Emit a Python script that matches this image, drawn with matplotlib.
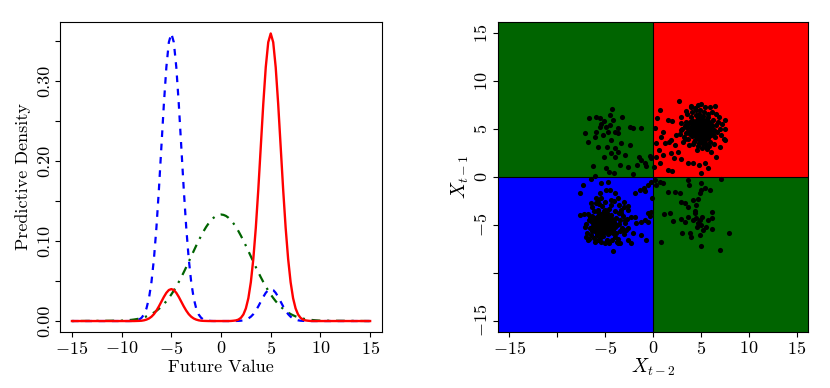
import matplotlib
matplotlib.use('Agg')
import matplotlib.pyplot as plt

plt.rcParams['font.family'] = 'serif'
plt.rcParams['font.serif'] = ['cmr10']
plt.rcParams['mathtext.fontset'] = 'cm'
plt.rcParams['axes.unicode_minus'] = False

# left panel: predictive densities on a grid of future values
x_vals = [-15, -10, -9.75, -9.5, -9.25, -9, -8.75, -8.5, -8.25, -8, -7.75, -7.5, -7.25, -7,
	-6.75, -6.5, -6.25, -6, -5.75, -5.5, -5.25, -5, -4.75, -4.5, -4.25, -4, -3.75, -3.5,
	-3.25, -3, -2.75, -2.5, -2.25, -2, -1.75, -1.5, -1.25, -1, -0.75, -0.5, -0.25, 0,
	0.25, 0.5, 0.75, 1, 1.25, 1.5, 1.75, 2, 2.25, 2.5, 2.75, 3, 3.25, 3.5, 3.75, 4, 4.25,
	4.5, 4.75, 5, 5.25, 5.5, 5.75, 6, 6.25, 6.5, 6.75, 7, 7.25, 7.5, 7.75, 8, 8.25, 8.5,
	8.75, 9, 9.25, 9.5, 9.75, 10, 15]

dens_red = [0, 0, 0, 0, 0, 0, 0, 0.0001, 0.0002, 0.0004, 0.0009, 0.0018, 0.0032, 0.0054,
	0.0086, 0.0130, 0.0183, 0.0242, 0.0301, 0.0352, 0.0387, 0.0399, 0.0387, 0.0352, 0.0301,
	0.0242, 0.0183, 0.0130, 0.0086, 0.0054, 0.0032, 0.0018, 0.0009, 0.0004, 0.0002, 0.0001,
	0, 0, 0, 0, 0, 0, 0, 0, 0, 0.0001, 0.0004, 0.0008, 0.0018, 0.0040, 0.0082, 0.0158,
	0.0285, 0.0486, 0.0777, 0.1166, 0.1643, 0.2178, 0.2710, 0.3169, 0.3480, 0.3590, 0.3480,
	0.3169, 0.2710, 0.2178, 0.1643, 0.1166, 0.0777, 0.0486, 0.0285, 0.0158, 0.0082, 0.0040,
	0.0018, 0.0008, 0.0004, 0.0001, 0, 0, 0, 0, 0]

dens_blue = [0, 0, 0, 0, 0, 0.0001, 0.0004, 0.0008, 0.0018, 0.0040, 0.0082, 0.0158, 0.0285,
	0.0486, 0.0777, 0.1166, 0.1643, 0.2178, 0.2710, 0.3169, 0.3480, 0.3590, 0.3480, 0.3169,
	0.2710, 0.2178, 0.1643, 0.1166, 0.0777, 0.0486, 0.0285, 0.0158, 0.0082, 0.0040, 0.0018,
	0.0008, 0.0004, 0.0001, 0, 0, 0, 0, 0, 0, 0, 0, 0, 0.0001, 0.0002, 0.0004, 0.0009,
	0.0018, 0.0032, 0.0054, 0.0086, 0.0130, 0.0183, 0.0242, 0.0301, 0.0352, 0.0387, 0.0399,
	0.0387, 0.0352, 0.0301, 0.0242, 0.0183, 0.0130, 0.0086, 0.0054, 0.0032, 0.0018, 0.0009,
	0.0004, 0.0002, 0.0001, 0, 0, 0, 0, 0, 0, 0]

dens_green = [0, 0.0005, 0.0007, 0.0009, 0.0012, 0.0015, 0.0019, 0.0024, 0.0030, 0.0038,
	0.0047, 0.0058, 0.0072, 0.0087, 0.0106, 0.0127, 0.0152, 0.0180, 0.0212, 0.0248, 0.0288,
	0.0332, 0.0380, 0.0432, 0.0488, 0.0547, 0.0609, 0.0673, 0.0740, 0.0807, 0.0874, 0.0940,
	0.1004, 0.1065, 0.1122, 0.1174, 0.1219, 0.1258, 0.1289, 0.1312, 0.1325, 0.1330, 0.1325,
	0.1312, 0.1289, 0.1258, 0.1219, 0.1174, 0.1122, 0.1065, 0.1004, 0.0940, 0.0874, 0.0807,
	0.0740, 0.0673, 0.0609, 0.0547, 0.0488, 0.0432, 0.0380, 0.0332, 0.0288, 0.0248, 0.0212,
	0.0180, 0.0152, 0.0127, 0.0106, 0.0087, 0.0072, 0.0058, 0.0047, 0.0038, 0.0030, 0.0024,
	0.0019, 0.0015, 0.0012, 0.0009, 0.0007, 0.0005, 0]

# right panel: lagged pairs (X_{t-2}, X_{t-1})
q1_x = [5.0, 4.6, 5.4, 4.8, 5.2, 4.3, 5.7, 4.9, 5.1, 4.5, 5.5, 4.7, 5.3, 4.4, 5.6, 4.1, 5.9, 4.2,
	5.8, 4.0, 6.0, 5.0, 5.0, 4.6, 5.4, 3.8, 6.2, 4.4, 5.6, 3.9, 6.1, 4.8, 5.2, 3.6, 6.4, 4.5,
	5.5, 3.7, 6.3, 4.0, 6.0, 3.4, 6.6, 4.7, 5.3, 3.5, 6.5, 4.2, 5.8, 3.3, 6.7, 4.9, 5.1, 3.2,
	6.8, 4.1, 5.9, 3.0, 7.0, 4.4, 5.6, 3.6, 6.4, 3.1, 6.9, 4.6, 5.4, 3.8, 6.2, 2.9, 7.1, 4.3,
	5.7, 4.5, 5.5, 5.0, 5.0, 4.7, 5.3, 4.7, 5.3, 4.9, 5.1, 4.2, 5.8, 4.8, 5.2, 4.4, 5.6, 4.6,
	5.4, 4.1, 5.9, 4.3, 5.7, 3.9, 6.1, 4.0, 6.0, 4.8, 5.2, 3.7, 6.3, 4.5, 5.5, 7.2, 2.8, 7.4,
	7.5, 6.0, 5.0, 4.0, 6.6, 3.5,
	4.75, 5.25, 4.85, 5.15, 4.55, 5.45, 4.65, 5.35, 4.95, 5.05, 4.35, 5.65, 4.85, 5.15, 4.45,
	5.55, 4.25, 5.75, 4.65, 5.35, 4.05, 5.95, 4.75, 5.25, 4.95, 5.05, 4.15, 5.85, 4.5, 5.5,
	0.7, 2.68, 0.42, 1.57, 1.99, 2.96, 0.17, 1.05, 0.8, 0.35, 1.22, 1.64, 2.26, 0.63, 1.05,
	1.85, 2.2, 2.96, 0.7, 1.57, 1.99, 3.66, 4.18, 4.77, 5.4, 4.98, 5.75, 6.62, 6.1, 6.97,
	7.49, 7.49, 6.45, 4.7, 4.01, 2.44, 2.96, 3.48, 3.31, 2.61, 1.92, 0.35, 0.1]
q1_y = [5.0, 5.3, 4.7, 4.4, 5.6, 4.9, 5.1, 5.8, 4.2, 4.6, 5.4, 5.1, 4.9, 5.5, 4.5, 4.3, 5.7, 5.9,
	4.1, 5.2, 4.8, 6.2, 3.8, 6.0, 3.9, 4.7, 5.3, 3.9, 6.1, 5.7, 4.4, 3.6, 6.4, 5.1, 4.9, 6.5,
	3.5, 4.0, 6.0, 6.3, 3.7, 4.6, 5.4, 3.2, 6.8, 5.8, 4.2, 3.4, 6.6, 5.3, 4.7, 7.0, 3.0, 4.2,
	5.8, 6.8, 3.2, 5.0, 5.0, 7.2, 2.9, 6.6, 3.4, 3.7, 6.3, 2.8, 7.3, 3.3, 6.8, 5.6, 4.4, 4.4,
	5.6, 5.0, 5.0, 4.5, 5.5, 4.7, 5.3, 5.3, 4.7, 4.9, 5.1, 4.8, 5.2, 4.0, 6.0, 5.2, 4.8, 4.2,
	5.8, 5.6, 4.4, 3.7, 6.3, 4.5, 5.5, 4.9, 5.1, 6.6, 3.4, 5.5, 4.5, 7.0, 3.1, 5.5, 4.5, 4.0,
	5.0, 7.3, 7.6, 7.4, 6.6, 6.9,
	5.15, 4.85, 4.65, 5.35, 4.85, 5.15, 5.55, 4.45, 5.25, 4.75, 5.05, 4.95, 5.45, 4.55, 4.45,
	5.55, 5.35, 4.65, 4.35, 5.65, 4.65, 5.35, 6.15, 3.85, 4.15, 5.85, 5.75, 4.25, 5.75, 4.25,
	7.0, 7.98, 6.13, 5.96, 5.89, 6.24, 5.09, 4.74, 4.22, 3.52, 3.52, 3.69, 3.34, 2.82, 2.3,
	2.47, 1.95, 1.85, 1.43, 0.73, 0.66, 1.43, 1.43, 1.25, 1.43, 0.38, 0.9, 2.13, 2.65, 3.17,
	3.87, 5.96, 7.42, 7.53, 7.35, 4.39, 4.91, 5.44, 3.94, 2.65, 3.87, 2.13, 1.08]

q2_x = [-4.29, -6.72, -5.99, -3.2, -7.07, -6.79, -6.1, -5.47, -5.12, -4.88, -4.53, -4.18, -4.7,
	-5.23, -4.01, -3.66, -3.31, -2.44, -3.94, -3.66, -4.36, -4.01, -2.96, -5.12, -6.27, -4.88,
	-4.6, -4.08, -6.1, -3.48, -2.09, -2.61, -2.44, -2.09, -1.29, -1.5, -1.22, -0.87, -0.7,
	-0.35, -0.17, -1.67, -5.75, -4.81, -4.36, -5.54, -4.53, -3.66, -5.54, -5.96]
q2_y = [7.11, 6.13, 6.24, 6.24, 4.56, 3.66, 4.2, 5.54, 5.89, 5.26, 5.44, 5.96, 4.74, 4.39, 4.74,
	4.56, 3.52, 3.34, 3.0, 2.65, 2.47, 2.13, 2.3, 2.13, 1.18, 0.9, 0.56, 0.38, 0.14, 1.25, 0.35,
	1.08, 5.26, 5.09, 5.09, 2.13, 1.78, 1.43, 1.15, 2.2, 1.95, 1.29, 3.17, 3.17, 3.87, 6.13,
	6.48, 5.09, 5.26, 4.74]

q3_x = [-5.2, -5.6, -4.8, -5.0, -5.4, -4.6, -5.8, -5.1, -5.3, -4.9, -5.5, -4.5, -6.0, -4.4, -6.1,
	-5.7, -4.7, -5.9, -4.3, -6.3, -5.2, -5.0, -4.1, -6.4, -4.2, -6.2, -5.5, -4.6, -6.6, -3.9,
	-5.8, -4.0, -6.7, -5.3, -3.8, -6.5, -4.8, -6.8, -3.6, -5.6, -6.9, -3.5, -4.4, -7.0, -3.4,
	-6.1, -5.0, -3.7, -6.4, -3.3, -5.2, -5.4, -4.9, -5.7, -4.7, -5.1, -5.5, -4.5, -5.9, -4.4,
	-6.0, -4.8, -5.3, -5.8, -4.2, -6.3, -4.0, -5.6, -6.6, -4.3, -3.6, -6.2, -5.0, -3.2, -7.1,
	-4.1, -6.8, -3.1, -5.7, -3.0, -6.5, -2.9, -4.6, -3.8, -7.0, -2.8, -3.0, -6.0, -5.4, -2.7,
	-5.9, -4.5, -5.2, -4.9, -5.6, -4.3, -6.1, -4.6, -5.8, -5.1, -4.0, -6.4, -3.9, -6.7, -2.6,
	-3.4, -7.2,
	-5.35, -5.05, -5.45, -4.95, -5.65, -4.75, -5.25, -5.15, -5.85, -4.55, -5.55, -4.85, -6.05,
	-4.35, -5.75, -5.25, -4.65, -6.15, -4.45, -5.95, -5.45, -4.95, -5.35, -6.25, -4.25, -5.05,
	-5.55, -4.65, -6.45, -4.05,
	-7.67, -7.6, -7.32, -6.45, -5.4, -4.7, -4.88, -4.53, -5.57, -5.4, -5.92, -4.36, -3.66,
	-3.59, -3.03, -2.61, -2.26, -1.92, -1.74, -1.22, -0.87, -0.52, -0.35, -0.52, -0.24, -0.1,
	-0.8, -1.39, -0.94, -0.52, -0.17, -2.09, -2.33, -3.66, -4.18, -0.7, -1.22, -2.61, -3.14,
	-2.96, -3.31, -1.92, -2.61, -4.01]
q3_y = [-4.8, -4.5, -5.1, -4.2, -5.4, -4.6, -5.0, -5.7, -3.9, -4.9, -4.1, -5.5, -4.4, -4.0, -5.6,
	-3.7, -6.0, -5.9, -5.2, -4.8, -6.2, -3.5, -4.7, -4.1, -5.9, -3.6, -6.4, -3.3, -5.3, -4.3,
	-6.6, -6.3, -4.5, -3.0, -5.0, -6.1, -6.6, -3.9, -3.8, -2.8, -5.8, -5.6, -2.9, -4.9, -4.5,
	-6.8, -6.9, -6.5, -3.1, -3.4, -4.3, -5.0, -4.5, -4.7, -5.3, -5.2, -5.7, -4.3, -4.2, -4.9,
	-5.3, -3.8, -6.0, -3.4, -5.5, -5.1, -3.6, -5.9, -4.2, -6.6, -4.9, -6.4, -2.6, -5.3, -5.2,
	-2.5, -6.6, -4.1, -2.4, -6.0, -2.7, -4.8, -6.9, -6.8, -6.3, -5.5, -3.1, -2.2, -6.8, -4.4,
	-6.1, -5.0, -5.4, -4.0, -4.0, -4.4, -4.6, -5.8, -5.5, -3.6, -5.2, -5.6, -5.8, -6.5, -6.6,
	-6.9, -3.9,
	-4.65, -4.95, -5.25, -4.35, -4.85, -4.75, -5.55, -4.05, -4.55, -5.05, -5.45, -5.35, -4.95,
	-4.65, -5.75, -3.75, -5.65, -4.25, -4.15, -5.25, -4.35, -5.75, -6.05, -5.45, -5.35, -4.55,
	-3.95, -4.25, -4.65, -4.95,
	-3.97, -1.64, -0.84, -0.21, -0.66, -0.49, -1.36, -1.36, -1.71, -2.23, -2.75, -2.4, -2.23,
	-2.93, -2.58, -3.45, -4.15, -4.15, -4.84, -4.67, -4.49, -4.67, -4.08, -3.8, -3.62, -2.23,
	-1.43, -1.36, -1.18, -0.84, -0.49, -5.89, -6.93, -6.93, -7.7, -6.59, -6.06, -5.37, -5.54,
	-4.49, -3.8, -1.71, -3.03, -1.64]

q4_x = [0.17, 0.7, 1.05, 0.35, 1.57, 2.26, 2.79, 3.66, 3.73, 4.98, 5.05, 5.4, 5.92, 7.07, 4.88,
	4.7, 2.96, 3.31, 4.18, 3.69, 4.39, 1.15, 1.74, 2.09, 2.96, 3.38, 3.66, 4.36, 4.53, 4.88,
	5.05, 4.63, 5.23, 5.57, 5.75, 6.17, 6.2, 6.2, 4.88, 4.01, 3.83, 3.03, 4.98, 6.97, 7.91,
	0.8, 4.53, 4.18, 4.7, 5.1]
q4_y = [-0.31, -0.49, -0.59, -0.84, -1.53, -1.53, -1.71, -0.31, -0.84, -0.59, -1.36, -1.18,
	-1.36, -0.21, -1.71, -2.33, -2.58, -2.75, -2.4, -3.1, -3.52, -3.87, -3.8, -4.56, -4.42,
	-4.67, -4.15, -3.8, -4.32, -4.49, -5.02, -5.19, -5.54, -5.19, -4.49, -3.62, -4.32, -5.47,
	-6.06, -6.24, -5.89, -5.89, -7.21, -7.63, -5.89, -6.83, -2.93, -4.49, -4.77, -4.15]

xticks_left = [-15, -10, -5, 0, 5, 10, 15]
yticks_left = [0, 0.05, 0.10, 0.15, 0.20, 0.25, 0.30, 0.35]
yticklabels_left = ['0.00', '', '0.10', '', '0.20', '', '0.30', '']
ticks_right = [-15, -10, -5, 0, 5, 10, 15]
ticklabels_right = ['$-15$', '', '$-5$', '$0$', '$5$', '$10$', '$15$']

dark_green = '#006400'

fig = plt.figure(figsize=(8.3, 3.88), dpi=100)

# ---- left: predictive densities
ax1 = fig.add_axes([0.0723, 0.1443, 0.388, 0.799])
ax1.plot(x_vals, dens_green, color=dark_green, lw=1.6, linestyle=(0, (1, 3, 4, 3)))
ax1.plot(x_vals, dens_blue, color='#0000ff', lw=1.6, linestyle=(0, (3, 3)))
ax1.plot(x_vals, dens_red, color='#ff0000', lw=1.7)
ax1.set_xlim(-16.2, 16.2)
ax1.set_ylim(-0.0137, 0.3733)
ax1.set_xticks(xticks_left)
ax1.set_xticklabels(['$%d$' % v for v in xticks_left])
ax1.set_yticks(yticks_left)
ax1.set_yticklabels(yticklabels_left, rotation=90, va='center')
ax1.set_xlabel('Future Value', fontsize=13, labelpad=2)
ax1.set_ylabel('Predictive Density', fontsize=13, labelpad=4)

# ---- right: lag scatter over the regime quadrants
ax2 = fig.add_axes([0.6, 0.1443, 0.3735, 0.799])
lim = 16.2
ax2.fill_between([-lim, 0], 0, lim, color=dark_green, lw=0)
ax2.fill_between([0, lim], 0, lim, color='#ff0000', lw=0)
ax2.fill_between([-lim, 0], -lim, 0, color='#0000ff', lw=0)
ax2.fill_between([0, lim], -lim, 0, color=dark_green, lw=0)
ax2.axhline(0, color='black', lw=0.8)
ax2.axvline(0, color='black', lw=0.8)
for xs, ys in [(q1_x, q1_y), (q2_x, q2_y), (q3_x, q3_y), (q4_x, q4_y)]:
	ax2.plot(xs, ys, 'o', color='black', ms=3.7, mew=0)
ax2.set_xlim(-lim, lim)
ax2.set_ylim(-lim, lim)
ax2.set_xticks(ticks_right)
ax2.set_xticklabels(ticklabels_right)
ax2.set_yticks(ticks_right)
ax2.set_yticklabels(ticklabels_right, rotation=90, va='center')
ax2.set_xlabel('$X_{t-2}$', fontsize=14, labelpad=0)
ax2.set_ylabel('$X_{t-1}$', fontsize=14, labelpad=2)

for ax in [ax1, ax2]:
	for s in ax.spines.values():
		s.set_linewidth(0.8)
	ax.tick_params(direction='out', length=3.5, width=0.8, labelsize=13, pad=2)

plt.savefig('out.png', dpi=100)
